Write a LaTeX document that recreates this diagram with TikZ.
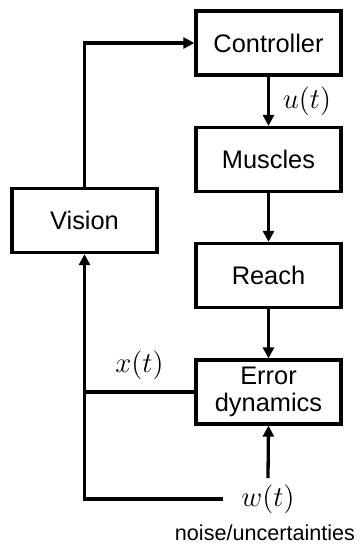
\documentclass[tikz,border=0pt]{standalone}
\usepackage{amsmath}
\usepackage{fontspec}
\setmainfont{Liberation Sans}
\usetikzlibrary{arrows.meta,positioning,calc}

\tikzset{
  block/.style={draw,line width=1.65pt,minimum width=72.5pt,minimum height=32pt,inner sep=0pt,align=center,font=\fontsize{12.7}{14.5}\selectfont},
  sig/.style={line width=1.65pt,-{Triangle[length=5.5pt,width=5.5pt]}},
  wire/.style={line width=1.65pt},
  mlabel/.style={font=\fontsize{15}{17}\selectfont}
}

\begin{document}
\begin{tikzpicture}[x=0.5pt,y=-0.5pt]
\useasboundingbox (0,0) rectangle (361,548);
\node[block] (Ctrl) at (268.5,43) {Controller};
\node[block] (Musc) at (268.5,159.5) {Muscles};
\node[block] (Reach) at (268.5,275.5) {Reach};
\node[block] (Err) at (268.5,392) {Error\\[-1pt]dynamics};
\node[block] (Vis) at (84.5,220.5) {Vision};
\node[mlabel,inner xsep=9pt,inner ysep=3pt] (W) at (268,499) {$w(t)$};
\node[font=\fontsize{10.8}{12}\selectfont] (Noise) at (265,533) {noise/uncertainties};
\coordinate (J) at (Err.west -| Vis.south);
\path[sig]
(Ctrl) edge node[right=3pt,mlabel] {$u(t)$} (Musc)
(Musc) edge (Reach)
(Reach) edge (Err)
(W.north) edge (Err.south);
\draw[sig] (Vis.north) |- (Ctrl.west);
\draw[sig] (W.west) -| (Vis.south);
\draw[wire] (Err.west) -- node[above=2pt,mlabel] {$x(t)$} (J);
\end{tikzpicture}
\end{document}
